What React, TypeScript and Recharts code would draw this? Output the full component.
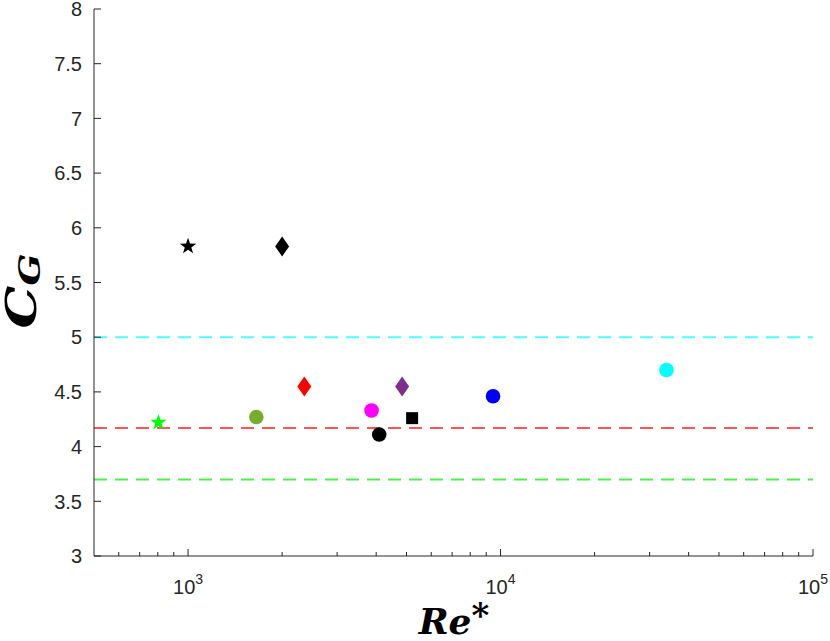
import React from 'react';
import { ScatterChart, Scatter, XAxis, YAxis, ReferenceLine } from 'recharts';

const RE_VALUES = [1000, 2000, 804, 1654, 2355, 3866, 4090, 4843, 5213, 9463, 33970];
const CG_VALUES = [5.83, 5.83, 4.22, 4.27, 4.55, 4.33, 4.11, 4.55, 4.26, 4.46, 4.70];
const MARKERS = ['star', 'diamond', 'star', 'circle', 'diamond', 'circle', 'circle', 'diamond', 'square', 'circle', 'circle'];
const MARKER_COLORS = ['#000000', '#000000', '#00ff00', '#77ac30', '#ff0000', '#ff00ff', '#000000', '#7e2f8e', '#000000', '#0000ff', '#00ffff'];

// horizontal dashed reference levels
const REF_LEVELS = [5.0, 4.17, 3.7];
const REF_COLORS = ['#4dffff', '#ff5555', '#4dee4d'];

const X_MAJOR = [1000, 10000, 100000];
const X_MINOR = [600, 700, 800, 900, 2000, 3000, 4000, 5000, 6000, 7000, 8000, 9000,
  20000, 30000, 40000, 50000, 60000, 70000, 80000, 90000];
const Y_TICKS = [3, 3.5, 4, 4.5, 5, 5.5, 6, 6.5, 7, 7.5, 8];

const AXIS = '#262626';
const TICK_FONT = '"Liberation Sans", Arial, Helvetica, sans-serif';
const TITLE_FONT = '"DejaVu Serif", "Liberation Serif", serif';

const X_TICKS = [...X_MINOR, ...X_MAJOR].sort((a, b) => a - b);

const pointData = RE_VALUES.map((re, i) => ({ re, cg: CG_VALUES[i] }));

const starPath = (cx: number, cy: number, r: number) => {
  const inner = r * 0.4;
  let d = '';
  for (let k = 0; k < 10; k++) {
    const rad = k % 2 === 0 ? r : inner;
    const a = -Math.PI / 2 + (k * Math.PI) / 5;
    d += `${k === 0 ? 'M' : 'L'}${cx + rad * Math.cos(a)},${cy + rad * Math.sin(a)}`;
  }
  return d + 'Z';
};

const makeShape = (kind: string, color: string) => (props: any) => {
  const { cx, cy } = props;
  if (kind === 'star') return <path d={starPath(cx, cy, 8.6)} fill={color} />;
  if (kind === 'diamond') {
    return <path d={`M${cx},${cy - 10}L${cx + 7},${cy}L${cx},${cy + 10}L${cx - 7},${cy}Z`} fill={color} />;
  }
  if (kind === 'square') return <rect x={cx - 6} y={cy - 6} width={12} height={12} fill={color} />;
  return <circle cx={cx} cy={cy} r={7.3} fill={color} />;
};

const BottomTick = (props: any) => {
  const { x, y, payload } = props;
  const major = X_MAJOR.includes(payload.value);
  return (
    <g>
      <line x1={x} x2={x} y1={y} y2={y - (major ? 7 : 4)} stroke={AXIS} />
      {major && (
        <text x={x} y={y + 38} textAnchor="middle" fontFamily={TICK_FONT} fontSize={20} fill={AXIS}>
          10<tspan dy={-10} fontSize={14}>{Math.round(Math.log10(payload.value))}</tspan>
        </text>
      )}
    </g>
  );
};

const TopTick = (props: any) => {
  const { x, y, payload } = props;
  const major = X_MAJOR.includes(payload.value);
  return <line x1={x} x2={x} y1={y} y2={y + (major ? 7 : 4)} stroke={AXIS} />;
};

const LeftTick = (props: any) => {
  const { x, y, payload } = props;
  return (
    <g>
      <line x1={x} x2={x + 7} y1={y} y2={y} stroke={AXIS} />
      <text x={x - 12} y={y} dy="0.36em" textAnchor="end" fontFamily={TICK_FONT} fontSize={20} fill={AXIS}>
        {payload.value}
      </text>
    </g>
  );
};

const RightTick = (props: any) => {
  const { x, y } = props;
  return <line x1={x} x2={x - 7} y1={y} y2={y} stroke={AXIS} />;
};

const XTitle = () => (
  <text x={454} y={634} textAnchor="middle" fontFamily={TITLE_FONT} fontWeight="bold" fontStyle="italic" fontSize={36} fill="#000">
    Re<tspan fontStyle="normal" fontSize={34} dy={-7}>*</tspan>
  </text>
);

const YTitle = () => (
  <text transform="translate(36,291) rotate(-90) scale(1.25,1)" textAnchor="middle" fontFamily={TITLE_FONT} fontWeight="bold" fontStyle="italic" fontSize={43} fill="#000">
    C<tspan fontSize={30} dy={4}>G</tspan>
  </text>
);

export default function App() {
  return (
    <div style={{ width: 830, height: 641, background: '#fff' }}>
      <style>{'body{margin:0;}'}</style>
      <ScatterChart width={830} height={641} margin={{ top: 9, right: 17, bottom: 0, left: 0 }}>
        <XAxis
          dataKey="re"
          type="number"
          scale="log"
          domain={[500, 100000]}
          allowDataOverflow
          ticks={X_TICKS}
          interval={0}
          height={85}
          tickSize={0}
          tickMargin={0}
          tickLine={false}
          axisLine={{ stroke: AXIS }}
          tick={<BottomTick />}
          label={<XTitle />}
        />
        <XAxis
          xAxisId="top"
          orientation="top"
          type="number"
          scale="log"
          domain={[500, 100000]}
          allowDataOverflow
          ticks={X_TICKS}
          interval={0}
          height={0}
          tickSize={0}
          tickMargin={0}
          tickLine={false}
          axisLine={{ stroke: AXIS }}
          tick={<TopTick />}
        />
        <YAxis
          dataKey="cg"
          type="number"
          domain={[3, 8]}
          allowDataOverflow
          ticks={Y_TICKS}
          interval={0}
          width={94}
          tickSize={0}
          tickMargin={0}
          tickLine={false}
          axisLine={{ stroke: AXIS }}
          tick={<LeftTick />}
          label={<YTitle />}
        />
        <YAxis
          yAxisId="right"
          orientation="right"
          type="number"
          domain={[3, 8]}
          allowDataOverflow
          ticks={Y_TICKS}
          interval={0}
          width={0}
          tickSize={0}
          tickMargin={0}
          tickLine={false}
          axisLine={{ stroke: AXIS }}
          tick={<RightTick />}
        />
        {REF_LEVELS.map((level, i) => (
          <ReferenceLine key={level} y={level} stroke={REF_COLORS[i]} strokeWidth={2} strokeDasharray="13 8" />
        ))}
        {pointData.map((p, i) => (
          <Scatter
            key={i}
            data={[p]}
            isAnimationActive={false}
            shape={makeShape(MARKERS[i], MARKER_COLORS[i])}
          />
        ))}
      </ScatterChart>
    </div>
  );
}
